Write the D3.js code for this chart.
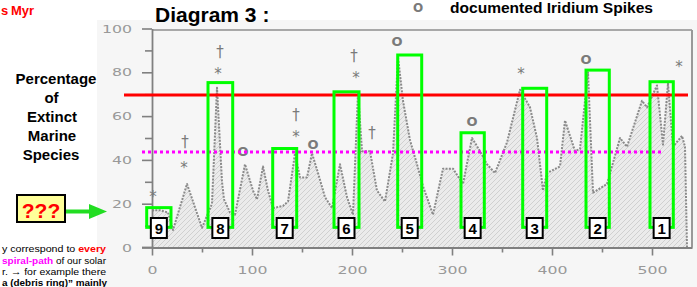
<!DOCTYPE html>
<html>
<head>
<meta charset="utf-8">
<script src="https://cdn.jsdelivr.net/npm/d3@7"></script>
<style>
  html, body { margin: 0; padding: 0; background: #ffffff; }
  svg { display: block; }
</style>
</head>
<body>
<svg id="chart" width="697" height="287"></svg>
<script>
// ---------- DATA ----------
// time (Myr) and percentage of extinct marine species
const seriesTime = [0, 8, 16, 21, 35, 50, 60, 65, 70, 72, 78, 83, 93, 101, 105, 111, 116, 121, 131, 136, 143, 148, 155, 160, 166, 173, 180, 188, 195, 201, 206, 210, 218, 225, 233, 241, 246, 251, 258, 265, 271, 281, 291, 301, 311, 320, 328, 335, 343, 355, 368, 378, 385, 391, 395, 408, 413, 423, 428, 436, 441, 455, 468, 475, 490, 495, 505, 511, 516, 521, 530, 533, 535];
const seriesValue = [17, 17, 16, 8, 29, 9, 20, 73, 30, 22, 16, 15, 38, 26, 22, 37, 26, 18, 19, 21, 43, 32, 32, 43, 34, 23, 18, 38, 23, 15, 71, 44, 44, 26, 21, 43, 87, 67, 49, 38, 28, 15, 36, 36, 29, 50, 44, 38, 34, 48, 72, 64, 50, 26, 34, 37, 58, 44, 45, 80, 25, 29, 50, 46, 67, 64, 74, 47, 75, 46, 51, 46, 0];

// highlighted extinction events (green boxes)
const boxLabels = ["9", "8", "7", "6", "5", "4", "3", "2", "1"];
const boxStart  = [-5.3, 56, 120.7, 182, 245.7, 309, 370.7, 434, 498];
const boxEnd    = [19, 80.7, 144.7, 207, 269.7, 332.3, 394.7, 457.3, 521.3];
const boxTop    = [18.2, 75.3, 45.2, 71.1, 87.9, 52.4, 72.7, 81, 75.7];
const boxBottom = 9.2;

// markers above peaks
const markerSymbols = ["*", "†", "*", "†", "*", "O", "†", "*", "O", "†", "*", "†", "O", "O", "*", "O", "*"];
const markerTime    = [1, 33, 32, 68, 66, 91, 144, 144, 161, 202, 204, 220, 245, 320, 369, 434, 527];
const markerValue   = [24.7, 47.6, 38, 89, 81, 44, 60, 52, 47, 87, 79, 52, 94, 57.7, 81, 86, 84];

// reference lines
const redLevel = 69.6;
const magentaLevel = 43.6;

// ticks
const yMajorTicks = [0, 20, 40, 60, 80, 100];
const yMinorTicks = [10, 30, 50, 70, 90];
const xMajorTicks = [0, 100, 200, 300, 400, 500];
const xMinorTicks = [50, 150, 250, 350, 450];

const titleText = "Diagram 3 :";
const yLabelLines = ["Percentage", "of", "Extinct", "Marine", "Species"];
const legendText = "documented Iridium Spikes";

// ---------- DRAW ----------
const svg = d3.select("#chart");
const x = d3.scaleLinear().domain([0, 540]).range([152, 692]);
const y = d3.scaleLinear().domain([0, 100]).range([247.5, 28.5]);

const defs = svg.append("defs");
const pat = defs.append("pattern").attr("id", "hatch")
  .attr("patternUnits", "userSpaceOnUse").attr("width", 5).attr("height", 5);
pat.append("rect").attr("width", 5).attr("height", 5).attr("fill", "#ebebeb");
pat.append("path").attr("d", "M0,5 L5,0 M-1,1 L1,-1 M4,6 L6,4")
  .attr("stroke", "#cdcdcd").attr("stroke-width", 0.9);

// scanned-area background
svg.append("rect").attr("x", 97).attr("y", 20).attr("width", 600).attr("height", 267).attr("fill", "#f6f6f6");

// area + line
const pts = seriesTime.map((t, i) => [t, seriesValue[i]]);
svg.append("path").datum(pts)
  .attr("d", d3.area().x(d => x(d[0])).y0(y(0)).y1(d => y(d[1])))
  .attr("fill", "url(#hatch)");
svg.append("path").datum(pts)
  .attr("d", d3.line().x(d => x(d[0])).y(d => y(d[1])))
  .attr("fill", "none").attr("stroke", "#8a8a8a").attr("stroke-width", 2)
  .attr("stroke-dasharray", "2,1.3").attr("stroke-linejoin", "round");

// frame lines (top & right)
svg.append("line").attr("x1", x(0)).attr("x2", x(540)).attr("y1", 30).attr("y2", 30)
  .attr("stroke", "#a8a8a8").attr("stroke-width", 2);
svg.append("line").attr("x1", x(540)).attr("x2", x(540)).attr("y1", 30).attr("y2", y(0))
  .attr("stroke", "#999").attr("stroke-width", 2);

// axes
function styleAxis(g) {
  g.selectAll("path.domain").attr("stroke", "#808080").attr("stroke-width", 1.8);
  g.selectAll(".tick line").attr("stroke", "#808080").attr("stroke-width", 1.6);
  g.selectAll(".tick text")
    .attr("fill", "#999").style("font-family", "DejaVu Sans").style("font-size", "11px")
    .each(function () {
      const n = this.textContent.length;
      d3.select(this).attr("textLength", n * 10).attr("lengthAdjust", "spacingAndGlyphs");
    });
}
const gy = svg.append("g").attr("transform", `translate(${x(0)},0)`)
  .call(d3.axisLeft(y).tickValues(yMajorTicks).tickSize(10).tickSizeOuter(0).tickPadding(10));
styleAxis(gy);
const gy2 = svg.append("g").attr("transform", `translate(${x(0)},0)`)
  .call(d3.axisLeft(y).tickValues(yMinorTicks).tickSize(7).tickFormat(""));
gy2.select("path.domain").remove();
styleAxis(gy2);

const gx = svg.append("g").attr("transform", `translate(0,${y(0)})`)
  .call(d3.axisBottom(x).tickValues(xMajorTicks).tickSize(8).tickSizeOuter(0).tickPadding(11));
styleAxis(gx);
const gx2 = svg.append("g").attr("transform", `translate(0,${y(0)})`)
  .call(d3.axisBottom(x).tickValues(xMinorTicks).tickSize(5).tickFormat(""));
gx2.select("path.domain").remove();
styleAxis(gx2);
svg.append("line").attr("x1", 142).attr("x2", x(0)).attr("y1", y(0)).attr("y2", y(0))
  .attr("stroke", "#808080").attr("stroke-width", 1.8);

// markers
const markerFont = { "*": ["15px", "normal", 8.6], "†": ["15px", "normal", 4.2], "O": ["13px", "bold", 4.7] };
svg.append("g").selectAll("text").data(markerSymbols).join("text")
  .attr("x", (s, i) => x(markerTime[i]))
  .attr("y", (s, i) => y(markerValue[i]) + markerFont[s][2])
  .attr("text-anchor", "middle")
  .style("font-family", "DejaVu Sans")
  .style("font-size", s => markerFont[s][0])
  .style("font-weight", s => markerFont[s][1])
  .attr("fill", "#7a7a7a")
  .text(s => s);

// reference lines
svg.append("line").attr("x1", 142).attr("x2", x(510)).attr("y1", y(magentaLevel)).attr("y2", y(magentaLevel))
  .attr("stroke", "#ff00ff").attr("stroke-width", 3).attr("stroke-dasharray", "3,3");
svg.append("line").attr("x1", 124).attr("x2", 688).attr("y1", y(redLevel)).attr("y2", y(redLevel))
  .attr("stroke", "#ff0000").attr("stroke-width", 3);

// green boxes
svg.append("g").selectAll("rect").data(boxLabels).join("rect")
  .attr("x", (d, i) => x(boxStart[i]))
  .attr("width", (d, i) => x(boxEnd[i]) - x(boxStart[i]))
  .attr("y", (d, i) => y(boxTop[i]))
  .attr("height", (d, i) => y(boxBottom) - y(boxTop[i]))
  .attr("fill", "none").attr("stroke", "#00ff00").attr("stroke-width", 3);

// number labels
const lab = svg.append("g").selectAll("g").data(boxLabels).join("g")
  .attr("transform", (d, i) => `translate(${(x(boxStart[i]) + x(boxEnd[i])) / 2},228)`);
lab.append("rect").attr("x", -8).attr("y", -10).attr("width", 16).attr("height", 20)
  .attr("fill", "#fff").attr("stroke", "#000").attr("stroke-width", 2);
lab.append("text").attr("text-anchor", "middle").attr("y", 5.5)
  .style("font-family", "Liberation Sans").style("font-weight", "bold").style("font-size", "15px")
  .attr("fill", "#000").text(d => d);

// title
svg.append("text").attr("x", 155).attr("y", 22)
  .style("font-family", "Liberation Sans").style("font-weight", "bold").style("font-size", "21px")
  .attr("fill", "#000").text(titleText);

// top-left red text
svg.append("text").attr("x", 1).attr("y", 15)
  .style("font-family", "Liberation Sans").style("font-weight", "bold").style("font-size", "13px")
  .attr("fill", "#ff0000").text("s");
svg.append("text").attr("x", 11).attr("y", 15)
  .style("font-family", "Liberation Sans").style("font-weight", "bold").style("font-size", "13px")
  .attr("fill", "#ff0000").text("Myr");

// top-right legend
svg.append("text").attr("x", 418).attr("y", 12).attr("text-anchor", "middle")
  .style("font-family", "DejaVu Sans").style("font-weight", "bold").style("font-size", "12px")
  .attr("fill", "#7a7a7a").text("O");
svg.append("text").attr("x", 450).attr("y", 12.5)
  .style("font-family", "Liberation Sans").style("font-weight", "bold").style("font-size", "14px")
  .attr("fill", "#000").attr("textLength", 203).attr("lengthAdjust", "spacingAndGlyphs").text(legendText);

// y label
const yLabX = [56, 51.5, 52, 52, 51];
svg.append("g").selectAll("text").data(yLabelLines).join("text")
  .attr("x", (d, i) => yLabX[i]).attr("y", (d, i) => 84 + i * 19)
  .attr("text-anchor", "middle")
  .style("font-family", "Liberation Sans").style("font-weight", "bold").style("font-size", "15px")
  .attr("fill", "#000").text(d => d);

// ??? box + arrow
svg.append("rect").attr("x", 17).attr("y", 195).attr("width", 48).attr("height", 27)
  .attr("fill", "#ffff99").attr("stroke", "#000").attr("stroke-width", 2);
svg.append("text").attr("x", 41).attr("y", 218).attr("text-anchor", "middle")
  .style("font-family", "Liberation Sans").style("font-weight", "bold").style("font-size", "21px")
  .attr("fill", "#ff0000").text("???");
svg.append("line").attr("x1", 66).attr("x2", 91).attr("y1", 211.5).attr("y2", 211.5)
  .attr("stroke", "#22dd22").attr("stroke-width", 4);
svg.append("path").attr("d", "M89,204 L107,211.5 L89,219 Z").attr("fill", "#22dd22");

// bottom-left note
const note = svg.append("g").style("font-family", "Liberation Sans").style("font-size", "9.5px");
const l1 = note.append("text").attr("x", 2).attr("y", 252).attr("textLength", 104).attr("lengthAdjust", "spacingAndGlyphs").attr("fill", "#000");
l1.append("tspan").text("y correspond to ");
l1.append("tspan").attr("fill", "#ff0000").style("font-weight", "bold").text("every");
const l2 = note.append("text").attr("x", 2).attr("y", 263.5).attr("textLength", 104).attr("lengthAdjust", "spacingAndGlyphs").attr("fill", "#000");
l2.append("tspan").attr("fill", "#ff00ff").style("font-weight", "bold").text("spiral-path");
l2.append("tspan").text(" of our solar");
note.append("text").attr("x", 2).attr("y", 275).attr("textLength", 104).attr("lengthAdjust", "spacingAndGlyphs").attr("fill", "#000")
  .text("r. \u2192 for example there");
note.append("text").attr("x", 2).attr("y", 285.5).attr("textLength", 105).attr("lengthAdjust", "spacingAndGlyphs").attr("fill", "#000")
  .style("font-weight", "bold").text("a (debris ring)\u201D mainly");
</script>
</body>
</html>
